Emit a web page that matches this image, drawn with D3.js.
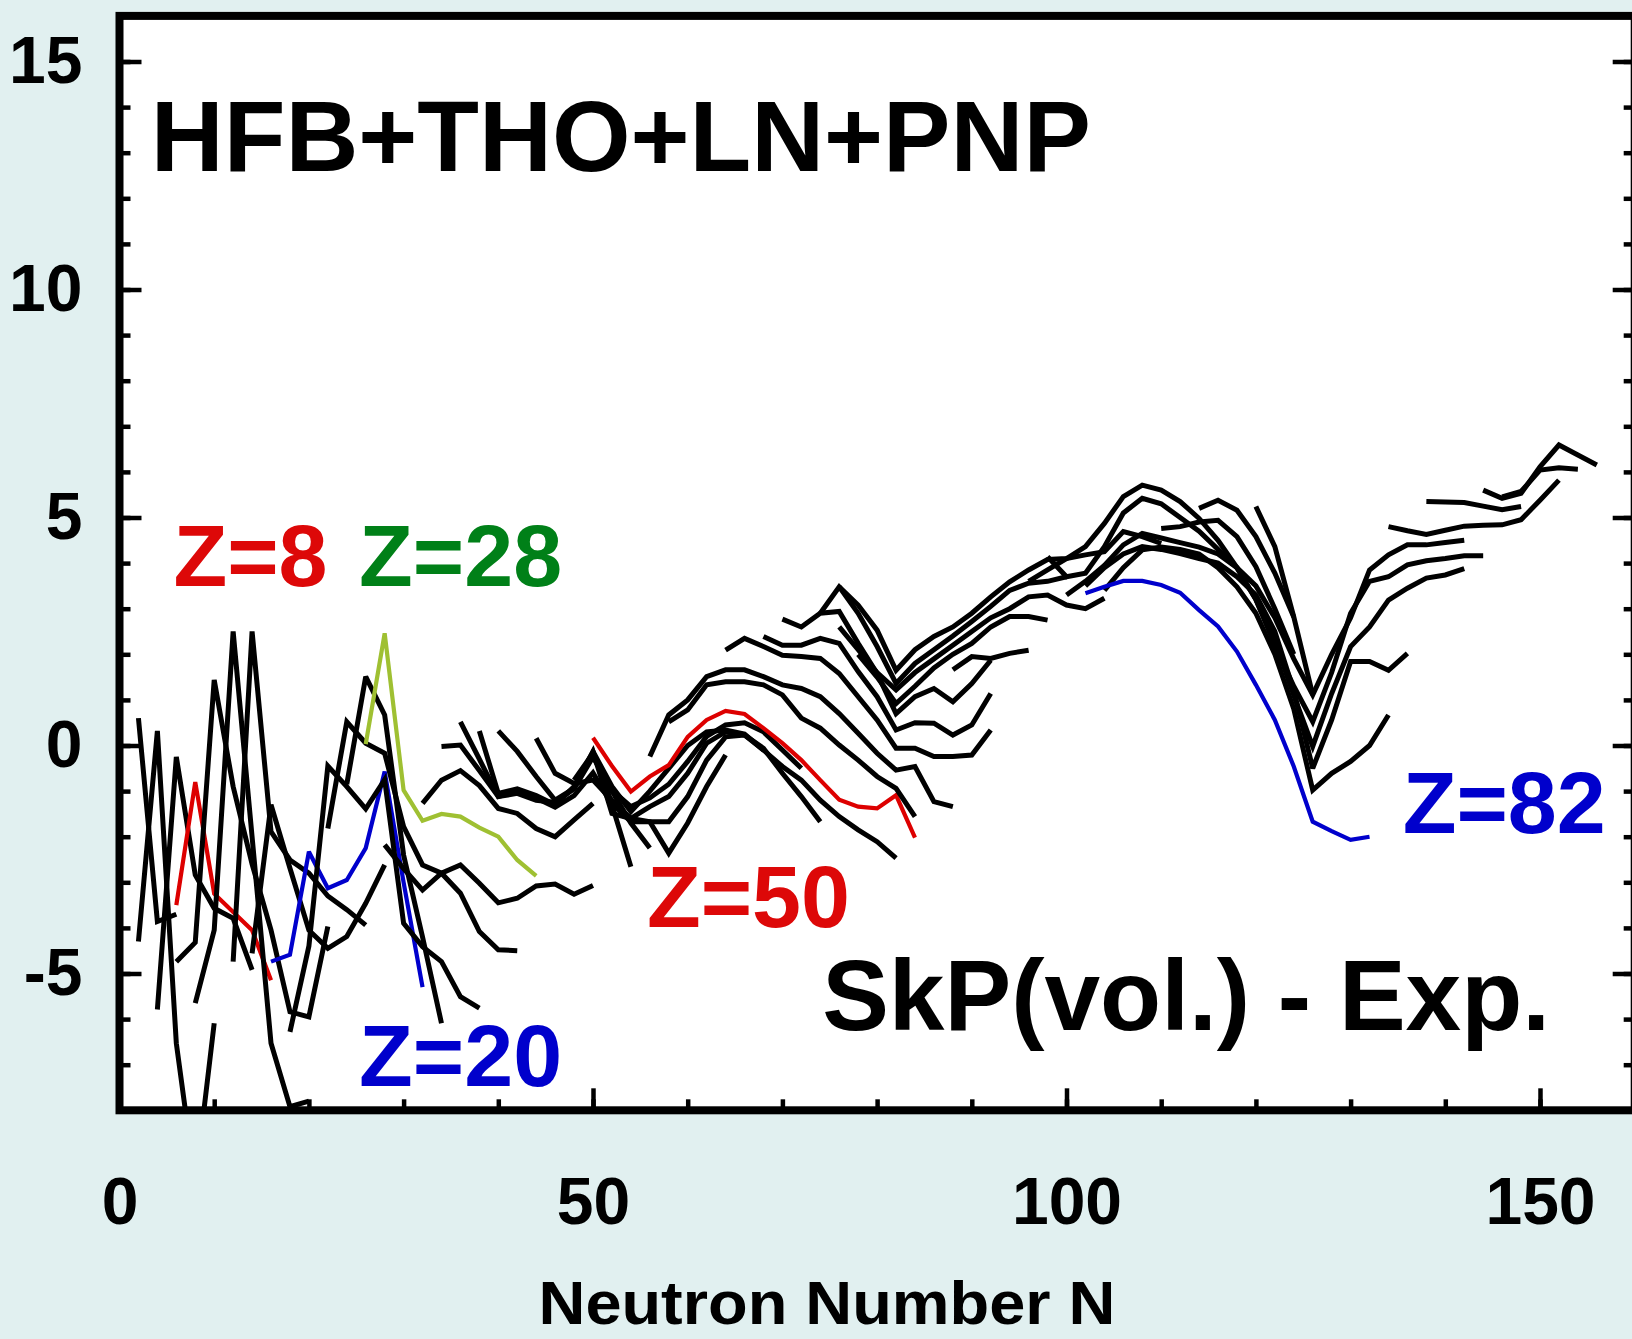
<!DOCTYPE html>
<html>
<head>
<meta charset="utf-8">
<script src="https://cdn.jsdelivr.net/npm/d3@7"></script>
<style>
body { margin:0; background:#e1f0f0; }
svg { display:block; font-family:"Liberation Sans", Arial, sans-serif; font-weight:bold; }
</style>
</head>
<body>
<svg></svg>
<script>
var width=1632, height=1339;

// isotopic chains: proton number, first neutron number, SkP(vol.) - Exp. (MeV) every 2 neutrons
var chainZ=[2,4,6,8,10,12,14,16,20,22,24,26,28,30,32,34,36,38,40,42,44,46,50,52,54,56,58,60,62,64,66,68,70,72,74,76,78,80,82,84,86,88,90,92,94,96];
var chainStartN=[2,2,4,6,6,8,12,14,16,18,22,24,26,28,32,34,36,38,40,44,48,50,50,56,58,64,68,70,74,76,76,78,88,96,98,100,102,104,102,110,114,120,134,138,144,146];
var chainDiff=[
 [0.6,-3.86,-3.7],
 [-4.3,0.32,-6.53,-9.6,-6.09],
 [-5.79,-0.25,-2.84,-3.57,-3.79,-4.92],
 [-3.5,-0.8,-3.25,-3.65,-4.05,-5.15],
 [-4.74,-4.32,1.44,-0.9,-2.6,-4.05,-5.84,-5.95,-3.97],
 [-5.65,-4.05,2.5,-2.0,-6.53,-7.92,-7.8],
 [-4.74,2.5,-1.89,-2.51,-2.8,-3.3,-3.6,-3.94],
 [-4.56,-1.3,-2.69,-4.05,-4.45,-4.19,-3.46,-2.62],
 [-4.74,-4.59,-2.33,-3.13,-2.95,-2.25,-0.57,-3.0,-5.3],
 [-6.28,-4.4,-0.45,-0.9,-1.39,-0.75,-3.9,-4.41,-4.74,-5.51,-5.76],
 [-1.82,0.52,0.05,-0.17,-1.78,-2.62,-2.8,-3.24,-4.08,-4.48,-4.5],
 [-0.85,1.51,0.67,-2.4,-4.2,-6.09],
 [0.03,2.46,-0.98,-1.65,-1.5,-1.56,-1.8,-2.0,-2.51,-2.86],
 [-2.18,-2.7,-3.17,-2.8,-2.62,-3.02,-3.45,-3.35,-3.08,-3.04,-3.26,-3.07],
 [-1.27,-0.76,-0.55,-0.88,-1.38,-1.49,-1.82,-2.0,-1.63,-1.27],
 [-0.02,0.01,-0.55,-1.12,-1.0,-1.15,-1.35,-1.1,-0.6,-1.3,-2.66],
 [0.52,-0.3,-1.12,-1.05,-1.2,-1.25,-0.95,-0.25,-1.0,-1.7,-2.25],
 [0.32,-1.05,-0.95,-1.1,-1.3,-0.9,-0.13,-1.49,-1.6,-1.67,-2.36,-1.7,-0.9,-0.21],
 [0.32,-0.13,-0.68,-1.2,-0.94,-0.14,-1.27,-1.67,-1.67,-1.67,-1.12,-0.32,0.19,0.23,-0.06,-0.61,-1.12,-1.67],
 [0.16,-0.61,-0.83,-0.76,-1.2,-1.6,-1.34,-1.12,-0.61,0.05,0.3,0.23,-0.1,-0.46,-0.76,-1.2,-1.56,-1.85,-2.11,-2.47],
 [-0.76,-0.17,-0.98,-1.34,-1.15,-0.85,-0.35,0.2,0.45,0.5,0.3,-0.1,-0.5],
 [-0.13,-0.9,-1.45,-1.0,-0.5,0.0,0.3,0.34,0.25,-0.1],
 [0.17,-0.45,-1.01,-0.68,-0.43,0.19,0.56,0.76,0.69,0.38,0.05,-0.32,-0.76,-1.19,-1.34,-1.38,-1.09,-2.02],
 [-0.24,0.67,1.0,1.51,1.66,1.66,1.51,1.33,1.25,1.07,0.7,0.27,-0.17,-0.54,-0.46,-1.23,-1.34],
 [0.52,0.78,1.33,1.4,1.4,1.33,1.11,0.6,0.38,0.01,-0.32,-0.68,-0.94,-1.56],
 [2.09,2.35,2.17,1.98,1.95,1.91,1.58,1.07,0.56,-0.06,-0.06,-0.24,-0.24,-0.21,0.34],
 [2.39,2.2,2.2,2.35,2.24,1.62,1.07,0.34,0.5,0.49,0.23,0.45,1.14],
 [2.77,2.6,2.9,2.94,2.24,1.58,0.7,1.07,1.25,0.96,1.36,1.87],
 [2.9,3.48,3.08,2.53,1.65,2.1,2.39,2.6,2.9,3.26,3.59,3.85,4.08,4.1,4.18,4.25,4.69,4.58,4.43],
 [3.48,2.9,2.17,1.36,1.8,2.1,2.4,2.72,3.05,3.4,3.56,3.6,3.7],
 [2.6,2.1,1.6,1.22,1.6,1.9,2.2,2.5,2.8,3.0,3.26,3.3,3.08,3.0,3.23],
 [2.0,1.5,0.92,1.3,1.7,2.0,2.24,2.6,2.83,2.83,2.75],
 [1.66,1.95,1.91,2.02,2.09],
 [3.6,3.85,4.1,4.36,4.87,5.46,5.71,5.6,5.35,4.98,4.5,3.9,3.2,2.3,1.1,-0.02,1.14,2.17,2.6,3.19,3.45,3.67,3.74,3.88],
 [4.14,3.7,3.78,4.36,5.1,5.42,5.3,5.0,4.7,4.3,3.9,3.2,2.2,1.3,0.52,1.6,2.9,3.6,3.7,3.96,4.05,4.1,4.16,4.16],
 [3.3,3.6,3.95,4.4,4.65,4.55,4.45,4.35,4.2,3.9,3.5,2.8,1.9,1.11,2.0,2.8,3.85,4.18,4.4,4.4,4.45,4.5],
 [3.5,3.9,4.2,4.36,4.3,4.21,4.1,4.0,3.7,3.3,2.5,1.2,-0.5,0.56,1.84,1.84,1.65,2.02],
 [3.4,3.9,4.29,4.35,4.3,4.2,3.9,3.48,2.9,2.0,0.8,-0.98,-0.61,-0.35,0.0,0.67],
 [3.34,3.48,3.61,3.61,3.52,3.35,2.97,2.61,2.06,1.33,0.56,-0.46,-1.67,-1.88,-2.07,-2.0],
 [4.76,4.8,4.9,4.94,4.58,3.92,3.0,2.0],
 [5.2,5.38,5.16,4.58,3.78,2.82],
 [5.24,4.36,2.82,1.11],
 [4.8,4.71,4.63,4.72,4.81,4.83,4.84,4.95,5.38,5.82],
 [5.35,5.34,5.33,5.25,5.17,5.24],
 [5.6,5.42,5.53,6.11,6.59,6.37,6.15],
 [5.45,5.57,6.04,6.09,6.06]
];

var xTicks=[0,50,100,150];
var yTicks=[-5,0,5,10,15];
var labelText=["Z=8","Z=28","Z=20","Z=50","Z=82"];
var labelZ=[8,28,20,50,82];

var lineColor={8:"#dd0000",20:"#0000cc",28:"#9fc032",50:"#dd0000",82:"#0000cc"};
var labelColor={8:"#dd0808",20:"#0000cc",28:"#008018",50:"#dd0808",82:"#0000cc"};

var svg=d3.select("svg").attr("width",width).attr("height",height);

var scalex=d3.scaleLinear().domain([0,160]).range([119.5,1634.7]);
var scaley=d3.scaleLinear().domain([-8,16]).range([1110.3,15.9]);

svg.append("rect")
	.attr("x",scalex(0)).attr("y",scaley(16))
	.attr("width",scalex(160)-scalex(0)).attr("height",scaley(-8)-scaley(16))
	.attr("fill","#fff");

svg.append("clipPath").attr("id","plotclip")
	.append("rect")
	.attr("x",scalex(0)).attr("y",scaley(16))
	.attr("width",scalex(160)-scalex(0)).attr("height",scaley(-8)-scaley(16));

var chains=chainZ.map(function(z,i){
	return {Z:z,pts:chainDiff[i].map(function(v,j){return {N:chainStartN[i]+2*j,d:v};})};
});

var line=d3.line().x(d=>scalex(d.N)).y(d=>scaley(d.d));

svg.append("g")
	.attr("clip-path","url(#plotclip)")
	.selectAll("path")
	.data(chains)
	.enter()
	.append("path")
	.attr("d",d=>line(d.pts))
	.attr("fill","none")
	.attr("stroke",d=>lineColor[d.Z]||"#000")
	.attr("stroke-width",d=>lineColor[d.Z]?4.2:5)
	.attr("stroke-linejoin","miter")
	.attr("stroke-miterlimit",3);

// axes, ticks pointing inward
function styleAxis(g){
	g.select(".domain").remove();
	g.selectAll("line").attr("stroke","#000").attr("stroke-width",4.5);
}
var plain=d=>String(d);

svg.append("g")
	.attr("transform","translate(0,"+scaley(-8)+")")
	.call(d3.axisBottom(scalex).tickValues(d3.range(10,160,10)).tickSizeInner(-11).tickSizeOuter(0).tickFormat(""))
	.call(styleAxis);

svg.append("g")
	.attr("transform","translate(0,"+scaley(-8)+")")
	.call(d3.axisBottom(scalex).tickValues(xTicks).tickSizeInner(-22).tickSizeOuter(0).tickPadding(67).tickFormat(plain))
	.call(styleAxis)
	.selectAll("text")
	.attr("font-size",66).attr("font-family","Liberation Sans, Arial").attr("font-weight","bold").attr("fill","#000");

svg.append("g")
	.attr("transform","translate("+scalex(0)+",0)")
	.call(d3.axisLeft(scaley).tickValues(d3.range(-7,16,1)).tickSizeInner(-11).tickSizeOuter(0).tickFormat(""))
	.call(styleAxis);

svg.append("g")
	.attr("transform","translate("+scalex(0)+",0)")
	.call(d3.axisLeft(scaley).tickValues(yTicks).tickSizeInner(-22).tickSizeOuter(0).tickPadding(37).tickFormat(plain))
	.call(styleAxis)
	.selectAll("text")
	.attr("font-size",66).attr("font-family","Liberation Sans, Arial").attr("font-weight","bold").attr("fill","#000");

svg.append("g")
	.attr("transform","translate("+scalex(160)+",0)")
	.call(d3.axisRight(scaley).tickValues(d3.range(-7,16,1)).tickSizeInner(-11).tickSizeOuter(0).tickFormat(""))
	.call(styleAxis);

svg.append("g")
	.attr("transform","translate("+scalex(160)+",0)")
	.call(d3.axisRight(scaley).tickValues(yTicks).tickSizeInner(-22).tickSizeOuter(0).tickFormat(""))
	.call(styleAxis);

// frame
svg.append("rect")
	.attr("x",scalex(0)).attr("y",scaley(16))
	.attr("width",scalex(160)-scalex(0)).attr("height",scaley(-8)-scaley(16))
	.attr("fill","none").attr("stroke","#000").attr("stroke-width",8);

// texts
svg.append("text")
	.attr("x",scalex(3.3)).attr("y",scaley(12.6))
	.attr("font-size",101)
	.text("HFB+THO+LN+PNP");

svg.append("text")
	.attr("x",scalex(74.2)).attr("y",scaley(-6.24))
	.attr("font-size",100)
	.text("SkP(vol.) - Exp.");

var labelN=[5.7,25.3,25.3,55.7,135.5];
var labelD=[3.5,3.5,-7.46,-3.97,-1.91];
svg.selectAll(".zlabel")
	.data(labelText)
	.enter()
	.append("text")
	.classed("zlabel",true)
	.attr("x",(d,i)=>scalex(labelN[i]))
	.attr("y",(d,i)=>scaley(labelD[i]))
	.attr("font-size",88)
	.attr("fill",(d,i)=>labelColor[labelZ[i]])
	.text(d=>d);

svg.append("text")
	.attr("x",827).attr("y",1324)
	.attr("text-anchor","middle")
	.attr("font-size",62)
	.attr("textLength",577)
	.attr("lengthAdjust","spacingAndGlyphs")
	.text("Neutron Number N");
</script>
</body>
</html>
